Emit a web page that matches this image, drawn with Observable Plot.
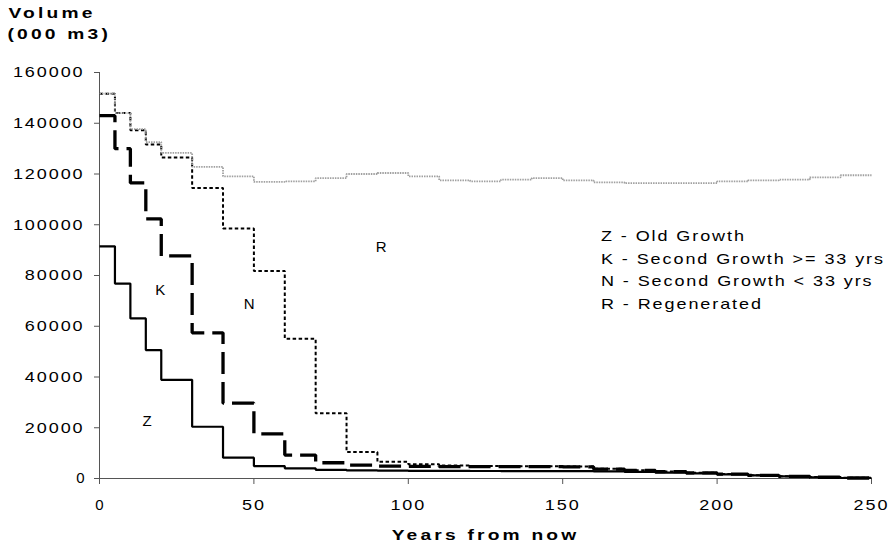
<!DOCTYPE html>
<html>
<head>
<meta charset="utf-8">
<script src="https://cdn.jsdelivr.net/npm/d3@7"></script>
<script src="https://cdn.jsdelivr.net/npm/@observablehq/plot@0.6"></script>
<style>
  html, body { margin: 0; padding: 0; background: #fff; }
  #chart { width: 894px; height: 548px; }
  g[aria-label="x-axis tick"], g[aria-label="y-axis tick"] { stroke: #555; }
</style>
</head>
<body>
<div id="chart"></div>
<script>
// ---- data ----
const years = [0, 5, 10, 15, 20, 30, 40, 50, 60, 70, 80, 90, 100, 110, 120, 130, 140, 150, 160, 170, 180, 190, 200, 210, 220, 230, 240];
const endYear = 250;
const zOldGrowth = [91500, 76800, 63100, 50600, 38900, 20400, 8200, 4900, 4000, 3400, 3200, 3100, 3000, 3000, 2950, 2900, 2900, 2900, 2800, 2600, 2300, 2000, 1600, 1200, 800, 500, 200];
const kSecondGrowthOld = [143000, 130000, 116500, 102300, 87700, 57400, 29700, 17600, 9250, 6200, 5300, 4900, 4800, 4700, 4700, 4700, 4700, 4600, 3700, 3200, 2700, 2200, 1700, 1250, 850, 500, 200];
const nSecondGrowthYoung = [151600, 144000, 137200, 131600, 126500, 114500, 98500, 81800, 55100, 25700, 10400, 6600, 5600, 5100, 4900, 4800, 4800, 4700, 3800, 3300, 2800, 2300, 1800, 1300, 900, 550, 250];
const rRegenerated = [151700, 144000, 137700, 132600, 128300, 122800, 119100, 116900, 117100, 118400, 120000, 120400, 119100, 117500, 117100, 117750, 118400, 117500, 116700, 116400, 116400, 116400, 117100, 117500, 117750, 118700, 119500];
const yTicks = [0, 20000, 40000, 60000, 80000, 100000, 120000, 140000, 160000];
const xTicks = [0, 50, 100, 150, 200, 250];
const curveLetters = ["Z", "K", "N", "R"];
const legendLines = ["Z - Old Growth", "K - Second Growth >= 33 yrs", "N - Second Growth < 33 yrs", "R - Regenerated"];
const yTitleLines = ["Volume", "(000 m3)"];
const xTitle = "Years from now";

// ---- layout (positions, styles) ----
const FONT = "'Liberation Sans', Arial, Helvetica, sans-serif";
const TRACK = 1.6, TRACK_BOLD = 2.5;     // letter spacing, px
const WIDEN = 1.2, WIDEN_BOLD = 1.28;    // horizontal glyph stretch
const letterAt = { Z: [15.4, 22400], K: [19.7, 74300], N: [48.5, 68800], R: [91.2, 91200] };
const legendX = 162.4, legendTop = 95500, legendStep = 8950;

function stepRows(values) {
  const rows = years.map((x, i) => ({ x, y: values[i] }));
  rows.push({ x: endYear, y: values[values.length - 1] });
  return rows;
}

const seriesStyles = [
  { values: nSecondGrowthYoung, stroke: "#000", strokeWidth: 2, strokeDasharray: "3.5,2.5" },
  { values: kSecondGrowthOld, stroke: "#000", strokeWidth: 3.3, strokeDasharray: "22,8" },
  { values: zOldGrowth, stroke: "#000", strokeWidth: 2.2, strokeDasharray: null },
  { values: rRegenerated, stroke: "#a0a0a0", strokeWidth: 1.8, strokeDasharray: "1.5,1" }
];

const lineMarks = seriesStyles.map(s => Plot.line(stepRows(s.values), {
  x: "x", y: "y", curve: "step-after",
  stroke: s.stroke, strokeWidth: s.strokeWidth,
  strokeDasharray: s.strokeDasharray || undefined,
  strokeLinejoin: "miter", strokeLinecap: "butt"
}));

const letterRows = curveLetters.map(k => ({ text: k, x: letterAt[k][0], y: letterAt[k][1] }));
const legendRows = legendLines.map((t, i) => ({ text: t, x: legendX, y: legendTop - i * legendStep }));

const svg = Plot.plot({
  width: 894,
  height: 548,
  marginLeft: 99,
  marginRight: 23,
  marginTop: 72,
  marginBottom: 70,
  style: { fontFamily: FONT, fontSize: "15px", color: "#000", background: "#fff" },
  x: { domain: [0, 250], ticks: xTicks, tickSize: 6, tickPadding: 15, tickFormat: d => String(d), label: null },
  y: { domain: [0, 160000], ticks: yTicks, tickSize: 5, tickPadding: 10, tickFormat: d => String(d), label: null },
  marks: [
    Plot.ruleY([0], { stroke: "#555", strokeWidth: 1 }),
    Plot.ruleX([0], { stroke: "#555", strokeWidth: 1 }),
    ...lineMarks,
    Plot.text(letterRows, { x: "x", y: "y", text: "text", fontSize: 15, fill: "#000" }),
    Plot.text(legendRows, { x: "x", y: "y", text: "text", textAnchor: "start", fontSize: 15, fill: "#000" }),
    Plot.text([yTitleLines[0]], { frameAnchor: "top-left", textAnchor: "start", dx: -91, dy: -65, fontSize: 15, fontWeight: "bold", fill: "#000" }),
    Plot.text([yTitleLines[1]], { frameAnchor: "top-left", textAnchor: "start", dx: -92, dy: -44, fontSize: 15, fontWeight: "bold", fill: "#000" }),
    Plot.text([xTitle], { frameAnchor: "bottom", dy: 61, fontSize: 15, fontWeight: "bold", fill: "#000" })
  ]
});

document.getElementById("chart").append(svg);

// Tracked and slightly widened lettering, as in the reference (positions untouched)
d3.select(svg).selectAll("text").each(function () {
  const el = this;
  const fw = getComputedStyle(el).fontWeight;
  const bold = fw === "bold" || Number(fw) >= 600;
  if (el.textContent.length < 2) return;
  el.style.letterSpacing = (bold ? TRACK_BOLD : TRACK) + "px";
  const natural = el.getComputedTextLength();
  if (natural > 0) {
    el.setAttribute("textLength", (natural * (bold ? WIDEN_BOLD : WIDEN)).toFixed(2));
    el.setAttribute("lengthAdjust", "spacingAndGlyphs");
  }
});
</script>
</body>
</html>
